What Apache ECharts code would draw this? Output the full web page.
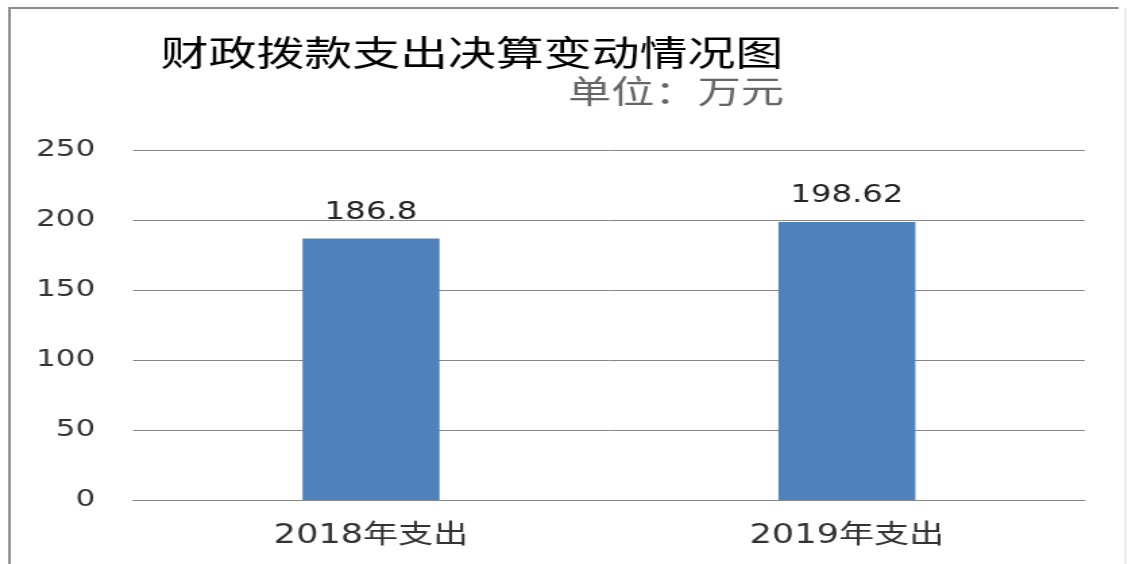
<!DOCTYPE html>
<html>
<head>
<meta charset="utf-8">
<script src="https://cdn.jsdelivr.net/npm/echarts@6/dist/echarts.min.js"></script>
<style>
  html, body { margin: 0; padding: 0; background: #fff; overflow: hidden; }
  /* the reference is a horizontally stretched picture, so stretch the canvas the same way */
  #chart { width: 836px; height: 564px; transform: scaleX(1.3493); transform-origin: 0 0; }
</style>
</head>
<body>
<div id="chart"></div>
<script>
let categories = ['2018年支出', '2019年支出'];
let values = [186.8, 198.62];
let yTicks = { min: 0, max: 250, step: 50 };
let titleText = '财政拨款支出决算变动情况图';
let unitText = '单位：万元';

let font = 'DejaVu Sans, Noto Sans CJK SC, sans-serif';

let chart = {
    init: () => {
        let myChart = echarts.init(document.getElementById('chart'));
        let option = {
            backgroundColor: '#fff',
            animation: false,
            title: [
                {
                    text: titleText,
                    left: 114,
                    top: 30,
                    textStyle: { fontFamily: 'Noto Sans CJK SC', fontSize: 35.5, fontWeight: 'normal', color: '#000' }
                },
                {
                    text: unitText,
                    right: 250,
                    top: 70,
                    textStyle: { fontFamily: 'Noto Sans CJK SC', fontSize: 32, fontWeight: 'normal', color: '#666' }
                }
            ],
            graphic: [
                {   // frame: left + top dark, right edge faint
                    type: 'polyline',
                    shape: { points: [[7, 620], [7, 8], [829, 8]] },
                    style: { fill: 'none', stroke: '#8c8c8c', lineWidth: 2 },
                    silent: true
                },
                {
                    type: 'line',
                    shape: { x1: 834, y1: 8, x2: 834, y2: 620 },
                    style: { stroke: '#d9d9d9', lineWidth: 1 },
                    silent: true
                }
            ],
            grid: { left: 98.6, right: 32, top: 150, bottom: 64 },
            xAxis: {
                type: 'category',
                data: categories,
                axisLine: { lineStyle: { color: '#868686', width: 1 } },
                axisTick: { show: false },
                axisLabel: { fontFamily: font, fontSize: 26, color: '#333', margin: 23 }
            },
            yAxis: {
                type: 'value',
                min: yTicks.min,
                max: yTicks.max,
                interval: yTicks.step,
                axisLine: { show: false },
                axisTick: { show: false },
                splitLine: { lineStyle: { color: '#868686', width: 1 } },
                axisLabel: { fontFamily: font, fontSize: 23, color: '#333', margin: 28 }
            },
            series: [
                {
                    type: 'bar',
                    data: values,
                    barWidth: 101.5,
                    itemStyle: { color: '#4f81bd' },
                    label: {
                        show: true,
                        position: 'top',
                        distance: 14,
                        fontFamily: font,
                        fontSize: 24,
                        color: '#222'
                    }
                }
            ]
        };
        myChart.setOption(option);
    }//init-------end
}

chart.init();
</script>
</body>
</html>
